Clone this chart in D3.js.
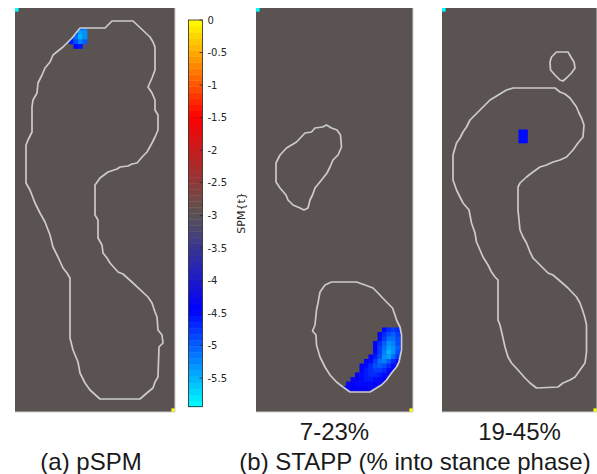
<!DOCTYPE html>
<html><head><meta charset="utf-8">
<script src="https://cdn.jsdelivr.net/npm/d3@7"></script>
<style>html,body{margin:0;padding:0;background:#fff;} svg{display:block;}</style>
</head><body>
<svg id="chart" width="597" height="474"></svg>
<script>
// ---------------- data ----------------
const cmapValues = [-5.94, -4.455, -2.97, -1.485, 0];
const cmapColors = ["#00ffff", "#0000ff", "#5a5352", "#ff0000", "#ffff00"];
const colorbarTicks = [0, -0.5, -1, -1.5, -2, -2.5, -3, -3.5, -4, -4.5, -5, -5.5];
const colorbarLabel = "SPM{t}";
const panelTitles = ["", "7-23%", "19-45%"];
const captionA = "(a) pSPM";
const captionB = "(b) STAPP (% into stance phase)";
const rangeMarkerValues = [-5.94, 0];   // min at top-left, max at bottom-right

// foot outlines (sensor frame units)
const outlineA = [[65,20],[90,20],[97,13],[118,13],[135,29],[138,34],[140,39],[140,62],[137,70],[133,79],[137,85],[140,92],[140,102],[143,107],[143,122],[140,129],[137,135],[132,144],[128,148],[122,155],[117,156],[113,158],[105,159],[102,161],[93,164],[85,170],[80,177],[80,207],[83,212],[83,230],[87,237],[88,245],[92,250],[95,255],[103,264],[108,266],[118,275],[133,289],[137,295],[140,304],[142,309],[143,322],[147,327],[148,335],[144,339],[143,369],[140,374],[138,380],[133,384],[125,391],[85,391],[75,382],[70,375],[65,365],[63,354],[58,342],[55,330],[55,270],[52,265],[48,260],[43,249],[38,239],[35,227],[30,214],[25,205],[20,195],[15,182],[11,175],[11,137],[13,132],[17,124],[17,99],[18,92],[22,85],[23,75],[27,67],[30,60],[35,54],[38,47],[48,39],[57,30]];
const outlineB1 = [[70.5,117],[75.5,120],[81,122],[84.5,127],[85.5,139],[82,147],[77,152],[74,159],[71,165],[65.5,172],[59,180],[56.5,187],[54,192],[52,200],[48,202],[44,200],[37,197],[32,192],[30,187],[24,180],[20,174],[20,155],[24,147],[30.5,140],[35.5,137],[40.5,134],[49,125],[55.5,124],[59,120],[66.5,119]];
const outlineB2 = [[75.5,274],[100.5,274],[109,277],[117,280],[122,285],[130.5,294],[136.5,300],[139,307],[140.5,312],[144,319],[145.5,327],[145.5,342],[143,354],[140.5,359],[135.5,365],[130.5,372],[125.5,377],[120.5,380],[114,384],[94,384],[87,379],[80.5,374],[74,367],[69,359],[64,349],[60.5,337],[60,327],[56.5,323],[59,317],[60.5,302],[62,295],[64,284],[69,277]];
const outlineC1 = [[108,54],[109.5,49],[114.5,44],[126,44],[129.5,50],[132,54],[133,60],[129.5,65],[124.5,70],[121,73],[118,72],[113,67],[108.5,62]];
const outlineC2 = [[71,80],[113,80],[118,84],[123,86],[128,90],[134.5,99],[137,105],[139.5,110],[142,117],[141,129],[136,135],[131,142],[124.5,149],[118,152],[111,154],[104.5,157],[98,159],[91,164],[84.5,169],[78,175],[76,179],[76,202],[78,222],[81,229],[84.5,235],[88,244],[91,250],[98,257],[106,265],[111,267],[118,273],[126,280],[134.5,289],[138,295],[140.5,302],[143,310],[144.5,317],[144.5,344],[143,355],[138,362],[133,369],[128,372],[121,375],[116,379],[94.5,380],[88,375],[83,370],[76,362],[69.5,355],[66,349],[63,339],[61,330],[58,317],[56,312],[56,272],[53,269],[49.5,264],[46,257],[41,249],[38,242],[34.5,234],[33,225],[29.5,215],[27,202],[21,195],[18,189],[14.5,182],[11,172],[11,147],[14.5,135],[18,130],[21,124],[24.5,119],[28,112],[33,107],[38,102],[43,97],[48,92],[53,89],[59.5,85],[64.5,82]];

// supra-threshold SPM{t} cells: row index, first column index, values
const blobA = [
  {row:4, col:14, t:[-5.1,-5.2]},
  {row:5, col:13, t:[-4.9,-5.4,-5.3]},
  {row:6, col:12, t:[-4.7,-5.1,-5.5,-5.3]},
  {row:7, col:12, t:[-4.6,-4.9,-5.2,-5.0]},
  {row:8, col:13, t:[-4.5,-4.6]}
];
const blobB = [
  {row:71, col:28, t:[-4.5,-4.7,-4.8,-4.7,-4.5]},
  {row:72, col:27, t:[-4.4,-4.7,-4.9,-5.0,-4.8,-4.5]},
  {row:73, col:27, t:[-4.5,-4.8,-5.1,-5.1,-4.9,-4.6]},
  {row:74, col:26, t:[-4.4,-4.7,-5.0,-5.3,-5.2,-4.9,-4.6]},
  {row:75, col:26, t:[-4.4,-4.8,-5.1,-5.4,-5.3,-5.0,-4.6]},
  {row:76, col:26, t:[-4.5,-4.8,-5.2,-5.5,-5.3,-4.9,-4.5]},
  {row:77, col:25, t:[-4.4,-4.6,-4.9,-5.3,-5.4,-5.1,-4.8,-4.5]},
  {row:78, col:24, t:[-4.4,-4.5,-4.8,-5.1,-5.2,-5.0,-4.7,-4.5,-4.4]},
  {row:79, col:23, t:[-4.4,-4.5,-4.7,-4.9,-5.0,-4.9,-4.7,-4.5,-4.4,-4.4]},
  {row:80, col:23, t:[-4.4,-4.6,-4.7,-4.8,-4.8,-4.7,-4.5,-4.4,-4.4]},
  {row:81, col:22, t:[-4.4,-4.5,-4.6,-4.7,-4.7,-4.6,-4.5,-4.4,-4.4]},
  {row:82, col:21, t:[-4.3,-4.4,-4.5,-4.6,-4.6,-4.5,-4.5,-4.4,-4.3]},
  {row:83, col:20, t:[-4.3,-4.4,-4.5,-4.5,-4.5,-4.5,-4.4,-4.3,-4.3]},
  {row:84, col:19, t:[-4.3,-4.4,-4.4,-4.4,-4.4,-4.4,-4.3,-4.3,-4.3]},
  {row:85, col:20, t:[-4.3,-4.3,-4.3,-4.3,-4.3,-4.3]}
];
const blobC = [
  {row:27, col:17, t:[-4.5,-4.5]},
  {row:28, col:17, t:[-4.5,-4.5]},
  {row:29, col:17, t:[-4.5,-4.5]}
];

// ---------------- layout / style ----------------
const CELL = 4.5;      // sensor cell size in frame units
const MARK = 3.6;      // range-marker cell size
const BG = "#5a5352";
const OUTLINE = "#cbcbcb";
const panels = [
  {id:"A", x0:15,  y0:8, w:160, h:404, outlines:[outlineA], blob:blobA, title:panelTitles[0]},
  {id:"B", x0:256, y0:8, w:157, h:404, outlines:[outlineB1, outlineB2], blob:blobB, title:panelTitles[1]},
  {id:"C", x0:442, y0:8, w:155, h:404, outlines:[outlineC1, outlineC2], blob:blobC, title:panelTitles[2]}
];

const svg = d3.select("#chart");
const defs = svg.append("defs");
const color = d3.scaleLinear().domain(cmapValues).range(cmapColors)
  .interpolate(d3.interpolateRgb).clamp(true);

panels.forEach(p => {
  const x = d3.scaleLinear().domain([0, p.w]).range([p.x0, p.x0 + p.w]);
  const y = d3.scaleLinear().domain([0, p.h]).range([p.y0, p.y0 + p.h]);
  const g = svg.append("g");
  g.append("rect").attr("x", x(0)).attr("y", y(0))
    .attr("width", x(p.w) - x(0)).attr("height", y(p.h) - y(0)).attr("fill", BG);

  const line = d3.line().x(d => x(d[0])).y(d => y(d[1])).curve(d3.curveLinearClosed);
  const clipId = "clip" + p.id;
  defs.append("clipPath").attr("id", clipId)
    .selectAll("path").data(p.outlines).join("path").attr("d", line);

  const cells = p.blob.flatMap(r => r.t.map((t, k) => ({col: r.col + k, row: r.row, t})));
  g.append("g").attr("clip-path", `url(#${clipId})`)
    .selectAll("rect").data(cells).join("rect")
    .attr("x", d => x(d.col * CELL)).attr("y", d => y(d.row * CELL))
    .attr("width", x(CELL) - x(0) + 0.3).attr("height", y(CELL) - y(0) + 0.3)
    .attr("fill", d => color(d.t));

  // colour-range marker cells (corners)
  g.selectAll("rect.mk").data(rangeMarkerValues).join("rect").attr("class", "mk")
    .attr("x", (d, i) => i === 0 ? x(0) : x(p.w - MARK))
    .attr("y", (d, i) => i === 0 ? y(0) : y(p.h - MARK))
    .attr("width", x(MARK) - x(0)).attr("height", y(MARK) - y(0))
    .attr("fill", d => color(d));

  g.selectAll("path.outline").data(p.outlines).join("path").attr("class", "outline")
    .attr("d", line).attr("fill", "none").attr("stroke", OUTLINE)
    .attr("stroke-width", 1.7).attr("stroke-linejoin", "round");

  // light axis edges
  g.append("path")
    .attr("d", `M${x(0)},${y(p.h)}L${x(p.w)},${y(p.h)}L${x(p.w)},${y(0)}`)
    .attr("fill", "none").attr("stroke", "#cfcfcf").attr("stroke-width", 1);

  if (p.title) {
    svg.append("text").attr("x", x(p.w / 2)).attr("y", 440)
      .attr("text-anchor", "middle").attr("font-family", "Liberation Sans, Arial, sans-serif")
      .attr("font-size", 24).attr("fill", "#1a1a1a").text(p.title);
  }
});

// captions
svg.append("text").attr("x", 91).attr("y", 470).attr("text-anchor", "middle")
  .attr("font-family", "Liberation Sans, Arial, sans-serif").attr("font-size", 24)
  .attr("fill", "#1a1a1a").text(captionA);
svg.append("text").attr("x", 415).attr("y", 470).attr("text-anchor", "middle")
  .attr("font-family", "Liberation Sans, Arial, sans-serif").attr("font-size", 24)
  .attr("fill", "#1a1a1a").text(captionB);

// ---------------- colorbar ----------------
const cb = {x: 188.5, w: 14, top: 20, bottom: 406.7};
const cy = d3.scaleLinear().domain([cmapValues[0], 0]).range([cb.bottom, cb.top]);
const nBands = 64;
const bands = d3.range(nBands).map(i => cmapValues[0] + (i + 0.5) * (0 - cmapValues[0]) / nBands);
const bandH = (cb.bottom - cb.top) / nBands;
const cbg = svg.append("g");
cbg.selectAll("rect.band").data(bands).join("rect").attr("class", "band")
  .attr("x", cb.x).attr("width", cb.w)
  .attr("y", d => cy(d) - bandH / 2).attr("height", bandH + 0.4)
  .attr("fill", d => color(d));
cbg.append("rect").attr("x", cb.x).attr("y", cb.top).attr("width", cb.w)
  .attr("height", cb.bottom - cb.top).attr("fill", "none")
  .attr("stroke", "#262626").attr("stroke-width", 0.8);
const axis = d3.axisRight(cy).tickValues(colorbarTicks).tickSize(0).tickPadding(0)
  .tickFormat(d => d === 0 ? "0" : d3.format("")(d).replace("−", "-"));
const ax = cbg.append("g").attr("transform", `translate(${cb.x + cb.w + 5},0)`).call(axis);
ax.select(".domain").remove();
ax.selectAll("text").attr("font-family", "DejaVu Sans, sans-serif").attr("font-size", 10)
  .attr("fill", "#262626").attr("dx", 0);
cbg.selectAll("line.tk").data(colorbarTicks).join("line").attr("class", "tk")
  .attr("x1", cb.x + cb.w - 3).attr("x2", cb.x + cb.w)
  .attr("y1", d => cy(d)).attr("y2", d => cy(d))
  .attr("stroke", "#262626").attr("stroke-width", 0.8);
cbg.append("text").attr("transform", `translate(241,213) rotate(-90)`)
  .attr("text-anchor", "middle").attr("dominant-baseline", "central")
  .attr("font-family", "DejaVu Sans, sans-serif").attr("font-size", 11)
  .attr("fill", "#262626").text(colorbarLabel);
</script>
</body></html>
